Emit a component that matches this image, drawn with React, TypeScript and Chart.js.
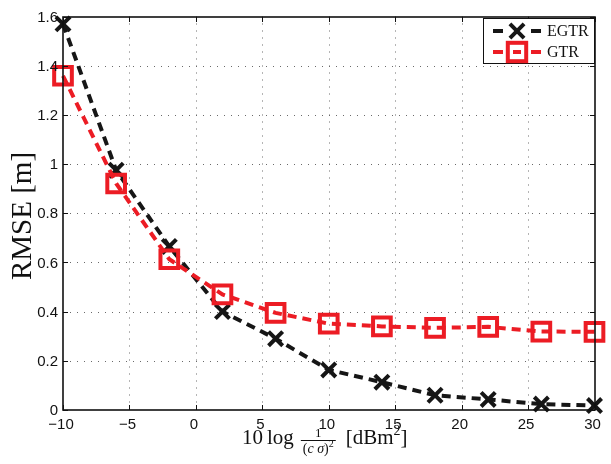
import React, { useEffect, useRef } from "react";
import { Chart, registerables } from "chart.js";

Chart.register(...registerables);

const snrDb = [-10, -6, -2, 2, 6, 10, 14, 18, 22, 26, 30];
const egtrRmse = [1.57, 0.975, 0.665, 0.4, 0.29, 0.163, 0.113, 0.06, 0.043, 0.024, 0.018];
const gtrRmse = [1.359, 0.921, 0.613, 0.47, 0.395, 0.351, 0.34, 0.334, 0.338, 0.319, 0.318];
const xTickValues = [-10, -5, 0, 5, 10, 15, 20, 25, 30];
const yTickValues = [0, 0.2, 0.4, 0.6, 0.8, 1, 1.2, 1.4, 1.6];
const seriesNames = ["EGTR", "GTR"];

const BLACK = "#161616";
const RED = "#ec1c24";
const SERIF = "'Liberation Serif', 'DejaVu Serif', serif";
const SANS = "'Liberation Sans', Arial, sans-serif";

function fmtX(v: number) {
  return v < 0 ? "\u2212" + Math.abs(v) : String(v);
}
function fmtY(v: number) {
  return String(Math.round(v * 10) / 10);
}

function drawCross(ctx: CanvasRenderingContext2D, x: number, y: number, r: number, color: string) {
  const d = r * Math.SQRT1_2;
  ctx.save();
  ctx.setLineDash([]);
  ctx.strokeStyle = color;
  ctx.lineWidth = 4;
  ctx.beginPath();
  ctx.moveTo(x - d, y - d);
  ctx.lineTo(x + d, y + d);
  ctx.moveTo(x - d, y + d);
  ctx.lineTo(x + d, y - d);
  ctx.stroke();
  ctx.restore();
}
function drawSquare(ctx: CanvasRenderingContext2D, x: number, y: number, r: number, color: string) {
  const s = r * Math.SQRT1_2;
  ctx.save();
  ctx.setLineDash([]);
  ctx.strokeStyle = color;
  ctx.lineWidth = 4;
  ctx.strokeRect(x - s, y - s, 2 * s, 2 * s);
  ctx.restore();
}

const decorPlugin = {
  id: "decor",
  beforeDatasetsDraw(chart: any) {
    const { ctx, chartArea, scales } = chart;
    const xs = scales.x;
    const ys = scales.y;
    ctx.save();
    ctx.strokeStyle = "#6a6a6a";
    ctx.lineWidth = 1;
    ctx.setLineDash([1, 6]);
    xTickValues.forEach((v) => {
      const px = Math.round(xs.getPixelForValue(v)) + 0.5;
      if (px <= chartArea.left + 1 || px >= chartArea.right - 1) return;
      ctx.beginPath();
      ctx.moveTo(px, chartArea.top);
      ctx.lineTo(px, chartArea.bottom);
      ctx.stroke();
    });
    yTickValues.forEach((v) => {
      const py = Math.round(ys.getPixelForValue(v)) + 0.5;
      if (py <= chartArea.top + 1 || py >= chartArea.bottom - 1) return;
      ctx.beginPath();
      ctx.moveTo(chartArea.left, py);
      ctx.lineTo(chartArea.right, py);
      ctx.stroke();
    });
    ctx.restore();
  },
  afterDatasetsDraw(chart: any) {
    const { ctx, chartArea, scales } = chart;
    const xs = scales.x;
    const ys = scales.y;
    const L = Math.round(chartArea.left);
    const R = Math.round(chartArea.right);
    const T = Math.round(chartArea.top);
    const B = Math.round(chartArea.bottom);
    ctx.save();
    ctx.setLineDash([]);
    ctx.strokeStyle = "#111";
    ctx.lineWidth = 1.6;
    ctx.strokeRect(L, T, R - L, B - T);
    // inner ticks
    const tl = 5;
    ctx.lineWidth = 1;
    ctx.beginPath();
    xTickValues.forEach((v) => {
      const px = Math.round(xs.getPixelForValue(v)) + 0.5;
      ctx.moveTo(px, B);
      ctx.lineTo(px, B - tl);
      ctx.moveTo(px, T);
      ctx.lineTo(px, T + tl);
    });
    yTickValues.forEach((v) => {
      const py = Math.round(ys.getPixelForValue(v)) + 0.5;
      ctx.moveTo(L, py);
      ctx.lineTo(L + tl, py);
      ctx.moveTo(R, py);
      ctx.lineTo(R - tl, py);
    });
    ctx.stroke();

    // x title (drawn before tick labels so labels sit on top)
    ctx.fillStyle = "#111";
    ctx.textBaseline = "alphabetic";
    ctx.textAlign = "left";
    let cx = 242;
    const base = 444;
    ctx.font = `21px ${SERIF}`;
    ctx.fillText("10", cx, base);
    cx += ctx.measureText("10").width + 4;
    ctx.fillText("log", cx, base);
    cx += ctx.measureText("log").width + 7;
    // fraction
    const parts: [string, string][] = [
      ["(", `14px ${SERIF}`],
      ["c", `italic 14px ${SERIF}`],
      [" ", `14px ${SERIF}`],
      ["\u03c3", `italic 14px ${SERIF}`],
      [")", `14px ${SERIF}`],
    ];
    let denW = 0;
    parts.forEach(([t, f]) => {
      ctx.font = f;
      denW += ctx.measureText(t).width;
    });
    ctx.font = `10px ${SERIF}`;
    const supW = ctx.measureText("2").width;
    const fracW = denW + supW + 4;
    const fracL = cx;
    ctx.fillRect(fracL, 440, fracW, 1);
    ctx.font = `13px ${SERIF}`;
    ctx.textAlign = "center";
    ctx.fillText("1", fracL + fracW / 2, 437);
    ctx.textAlign = "left";
    let dx = fracL + 2;
    parts.forEach(([t, f]) => {
      ctx.font = f;
      ctx.fillText(t, dx, 453);
      dx += ctx.measureText(t).width;
    });
    ctx.font = `10px ${SERIF}`;
    ctx.fillText("2", dx, 447);
    cx = fracL + fracW + 10;
    ctx.font = `21px ${SERIF}`;
    ctx.fillText("[dBm", cx, base);
    cx += ctx.measureText("[dBm").width;
    ctx.font = `14px ${SERIF}`;
    ctx.fillText("2", cx, base - 9);
    cx += ctx.measureText("2").width;
    ctx.font = `21px ${SERIF}`;
    ctx.fillText("]", cx, base);

    // tick labels
    ctx.font = `15px ${SANS}`;
    ctx.fillStyle = "#111";
    ctx.textAlign = "center";
    ctx.textBaseline = "middle";
    xTickValues.forEach((v) => {
      const px = xs.getPixelForValue(v);
      ctx.fillText(fmtX(v), px - 2, 425);
    });
    ctx.textAlign = "right";
    yTickValues.forEach((v) => {
      const py = ys.getPixelForValue(v);
      ctx.fillText(fmtY(v), 58, py + 1);
    });

    // y title
    ctx.save();
    ctx.translate(23, 216);
    ctx.rotate(-Math.PI / 2);
    ctx.font = `29px ${SERIF}`;
    ctx.textAlign = "center";
    ctx.textBaseline = "middle";
    ctx.fillText("RMSE [m]", 0, 0);
    ctx.restore();

    // legend
    const bx = 483.5, by = 18.5, bw = 111, bh = 45;
    ctx.fillStyle = "#fff";
    ctx.fillRect(bx, by, bw, bh);
    ctx.strokeStyle = "#111";
    ctx.lineWidth = 1;
    ctx.strokeRect(bx, by, bw, bh);
    const rows = [
      { y: 31, color: BLACK, kind: "x" },
      { y: 52, color: RED, kind: "sq" },
    ];
    rows.forEach((row, i) => {
      ctx.fillStyle = row.color;
      ctx.fillRect(493, row.y - 2, 10, 4);
      ctx.fillRect(531, row.y - 2, 10, 4);
      if (row.kind === "sq") ctx.fillRect(513, row.y - 2, 8, 4);
      if (row.kind === "x") drawCross(ctx, 517, row.y, 10, row.color);
      else drawSquare(ctx, 517, row.y, 13, row.color);
      ctx.fillStyle = "#111";
      ctx.font = `16px ${SERIF}`;
      ctx.textAlign = "left";
      ctx.textBaseline = "middle";
      ctx.fillText(seriesNames[i], 547, row.y + 1);
    });
    ctx.restore();
  },
};

export default function App() {
  const canvasRef = useRef<HTMLCanvasElement | null>(null);

  useEffect(() => {
    const canvas = canvasRef.current;
    if (!canvas) return;
    const chart = new Chart(canvas, {
      type: "scatter",
      data: {
        datasets: [
          {
            label: seriesNames[0],
            data: snrDb.map((x, i) => ({ x, y: egtrRmse[i] })),
            showLine: true,
            borderColor: BLACK,
            borderWidth: 4,
            borderDash: [9, 6],
            pointStyle: "crossRot",
            pointRadius: 10,
            pointBorderWidth: 4,
            pointBorderColor: BLACK,
            pointBackgroundColor: "transparent",
            clip: false as any,
            order: 1,
          },
          {
            label: seriesNames[1],
            data: snrDb.map((x, i) => ({ x, y: gtrRmse[i] })),
            showLine: true,
            borderColor: RED,
            borderWidth: 4,
            borderDash: [9, 6],
            pointStyle: "rect",
            pointRadius: 12.5,
            pointBorderWidth: 4,
            pointBorderColor: RED,
            pointBackgroundColor: "transparent",
            clip: false as any,
            order: 0,
          },
        ],
      },
      options: {
        animation: false,
        responsive: false,
        maintainAspectRatio: false,
        devicePixelRatio: 1,
        layout: { padding: { left: 63, right: 8, top: 10, bottom: 54 } },
        plugins: {
          legend: { display: false },
          tooltip: { enabled: false },
        },
        scales: {
          x: { type: "linear", min: -10, max: 30, display: false },
          y: { type: "linear", min: 0, max: 1.6, display: false },
        },
      },
      plugins: [decorPlugin],
    });
    return () => chart.destroy();
  }, []);

  return (
    <div style={{ position: "absolute", left: 0, top: 0, width: 611, height: 464, background: "#fff" }}>
      <canvas ref={canvasRef} width={611} height={464} style={{ width: 611, height: 464 }} />
    </div>
  );
}
